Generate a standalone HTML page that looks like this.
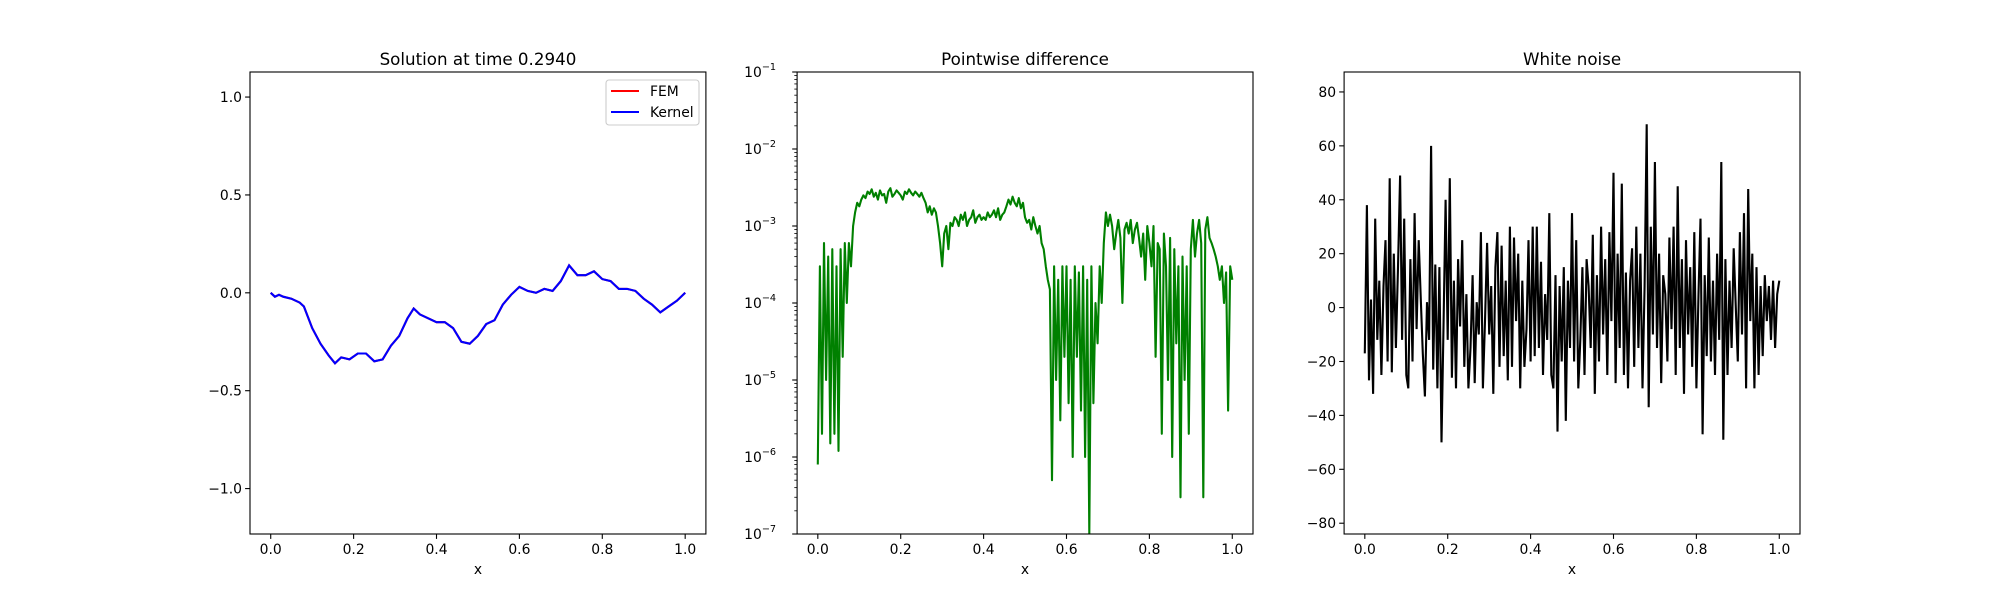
<!DOCTYPE html>
<html><head><meta charset="utf-8"><style>
html,body{margin:0;padding:0;background:#fff}
svg{display:block;font-family:"DejaVu Sans","Liberation Sans",sans-serif}
</style></head><body>
<svg id="fig" width="2000" height="600" viewBox="0 0 2000 600"></svg>
<script>
const solX = [0,0.01,0.02,0.03,0.05,0.07,0.08,0.1,0.12,0.14,0.155,0.17,0.19,0.21,0.23,0.25,0.27,0.29,0.31,0.33,0.345,0.36,0.38,0.4,0.42,0.44,0.46,0.48,0.5,0.52,0.54,0.56,0.58,0.6,0.62,0.64,0.66,0.68,0.7,0.72,0.74,0.76,0.78,0.8,0.82,0.84,0.86,0.88,0.9,0.92,0.94,0.96,0.98,1.0];
const solY = [0,-0.02,-0.01,-0.02,-0.03,-0.05,-0.07,-0.18,-0.26,-0.32,-0.36,-0.33,-0.34,-0.31,-0.31,-0.35,-0.34,-0.27,-0.22,-0.13,-0.08,-0.11,-0.13,-0.15,-0.15,-0.18,-0.25,-0.26,-0.22,-0.16,-0.14,-0.06,-0.01,0.03,0.01,0.0,0.02,0.01,0.06,0.14,0.09,0.09,0.11,0.07,0.06,0.02,0.02,0.01,-0.03,-0.06,-0.10,-0.07,-0.04,0.0];
const diffVals = [8e-7,3e-4,2e-6,6e-4,1e-5,4e-4,1.5e-6,5e-4,2e-6,3e-4,
1.2e-6,5e-4,2e-5,6e-4,1e-4,6e-4,3e-4,1e-3,1.5e-3,2e-3,
1.8e-3,2.2e-3,2.5e-3,2.3e-3,2.8e-3,2.6e-3,3e-3,2.4e-3,2.7e-3,2.2e-3,
2.9e-3,2.5e-3,2.6e-3,2e-3,2.8e-3,3.1e-3,2.4e-3,2.6e-3,2.9e-3,2.7e-3,
2.5e-3,2.2e-3,2.8e-3,2.6e-3,3e-3,2.7e-3,2.5e-3,2.8e-3,2.6e-3,2.4e-3,
2.7e-3,2.3e-3,2e-3,1.5e-3,1.8e-3,1.4e-3,1.7e-3,1.5e-3,1e-3,6e-4,
3e-4,8e-4,1e-3,5e-4,1.1e-3,1e-3,1.3e-3,1.2e-3,1e-3,1.4e-3,
1.2e-3,1.5e-3,1e-3,1.2e-3,1.3e-3,1.6e-3,1.1e-3,1.3e-3,1.4e-3,1.2e-3,
1.3e-3,1.2e-3,1.5e-3,1.3e-3,1.4e-3,1.6e-3,1.3e-3,1.7e-3,1.2e-3,1.4e-3,
1.5e-3,1.8e-3,2.2e-3,1.9e-3,2.4e-3,2e-3,1.8e-3,2.3e-3,1.7e-3,2e-3,
1.3e-3,1.1e-3,1.2e-3,9e-4,1.3e-3,1e-3,8e-4,1e-3,6e-4,5e-4,
3e-4,2e-4,1.5e-4,5e-7,3e-4,1e-5,2e-4,3e-6,3e-4,2e-5,
3e-4,5e-6,2e-4,1e-6,3e-4,2e-5,2.5e-4,4e-6,3e-4,1e-6,
2e-4,1e-7,3e-4,5e-6,1e-4,3e-5,3e-4,1e-4,6e-4,1.5e-3,
1e-3,1.4e-3,1e-3,5e-4,8e-4,1.2e-3,7e-4,1e-4,9e-4,1.1e-3,
8e-4,1.2e-3,6e-4,9e-4,1.1e-3,7e-4,4e-4,8e-4,2e-4,1e-3,
6e-4,3e-4,1e-3,2e-5,6e-4,5e-4,2e-6,8e-4,3e-4,1e-5,
7e-4,1e-6,5e-4,3e-5,3e-4,3e-7,4e-4,1e-5,3e-4,2e-6,
5e-4,1.2e-3,4e-4,8e-4,1.2e-3,6e-4,3e-7,9e-4,1.3e-3,7e-4,
6e-4,5e-4,4e-4,3e-4,2e-4,3e-4,1e-4,2.5e-4,4e-6,3e-4,
2e-4];
const noiseVals = [-17,38,-27,3,-32,33,-12,10,-25,8,
25,-20,48,-24,20,-15,15,49,-12,33,
-25,-30,18,-20,35,-8,25,3,-17,-33,
2,-12,60,-23,16,-30,15,-50,-5,40,
-12,48,-26,10,-30,18,-7,25,-22,5,
-30,-15,12,-28,2,-10,28,-30,-5,24,
-10,8,-32,15,28,-22,23,-18,10,-27,
30,-22,26,-5,20,-30,10,-22,-8,25,
-20,30,-18,30,-15,17,-25,5,-12,35,
-25,-30,12,-46,8,-20,15,-42,10,-15,
35,-20,25,-30,-12,15,-25,18,8,-15,
27,-32,12,-20,30,-10,18,-25,28,-5,
50,-28,20,-15,46,-25,13,-30,10,22,
-22,30,-15,20,-30,8,68,-37,30,-10,
54,-15,20,-28,12,5,-20,26,-8,30,
-25,45,-15,18,-32,25,-10,15,-22,28,
-30,5,33,-47,12,-18,26,-20,10,-25,
20,-12,54,-49,18,-25,10,-15,22,0,
-20,28,-10,35,-30,44,-5,20,-30,15,
-25,8,-18,12,-5,8,-12,10,-15,5,
10];
const xTicks = [0,0.2,0.4,0.6,0.8,1.0];
const xTickLabels = ["0.0","0.2","0.4","0.6","0.8","1.0"];
const solTicks = [-1,-0.5,0,0.5,1];
const solTickLabels = ["\u22121.0","\u22120.5","0.0","0.5","1.0"];
const diffExps = [-7,-6,-5,-4,-3,-2,-1];
const noiseTicks = [-80,-60,-40,-20,0,20,40,60,80];
const noiseTickLabels = ["\u221280","\u221260","\u221240","\u221220","0","20","40","60","80"];
const titles = ["Solution at time 0.2940","Pointwise difference","White noise"];

const NS="http://www.w3.org/2000/svg";
const fig=document.getElementById('fig');
function mk(tag,attrs,parent){const e=document.createElementNS(NS,tag);for(const k in attrs)e.setAttribute(k,attrs[k]);(parent||fig).appendChild(e);return e;}
const TOP=72, BOT=534, AW=455.9;
const lefts=[250,797.1,1344.1];
function sx(i,v){return lefts[i]+(v+0.05)/1.1*AW;}
function linY(lo,hi){return v=>BOT-(v-lo)/(hi-lo)*(BOT-TOP);}
const yS=[linY(-1.232,1.128), v=>BOT-(Math.log10(v)+7)/6*(BOT-TOP), linY(-84,87.4)];

function axes(i,name){
  const g=mk('g',{});
  
  
  const t=mk('text',{x:lefts[i]+AW/2,y:65,'text-anchor':'middle','font-size':'16.7px',fill:'#000'},g);
  t.textContent=titles[i];
  
  
  xTicks.forEach((v,k)=>{const x=sx(i,v);
    mk('line',{x1:x,x2:x,y1:BOT,y2:BOT+4.9,stroke:'#000','stroke-width':1.1},g);
    const l=mk('text',{x:x,y:BOT+20,'text-anchor':'middle','font-size':'13.9px'},g);
    l.textContent=xTickLabels[k];
    
    });
  const xl=mk('text',{x:lefts[i]+AW/2,y:574,'text-anchor':'middle','font-size':'13.9px'},g);
  xl.textContent='x';
  
  
  return g;
}
function frame(i,g){mk('rect',{x:lefts[i],y:TOP,width:AW,height:BOT-TOP,fill:'none',stroke:'#000','stroke-width':1.1},g);}
function clip(i){const c=mk('clipPath',{id:'c'+i});mk('rect',{x:lefts[i],y:TOP,width:AW,height:BOT-TOP},c);return 'url(#c'+i+')';}
function yTick(g,y,label,i){mk('line',{x1:lefts[i],x2:lefts[i]-4.9,y1:y,y2:y,stroke:'#000','stroke-width':1.1},g);
  const t=mk('text',{x:lefts[i]-8,y:y+5,'text-anchor':'end','font-size':'13.9px'},g);t.textContent=label;
  
  return t;}

// Panel 1
let g=axes(0,'solution-panel');
solTicks.forEach((v,k)=>yTick(g,yS[0](v),solTickLabels[k],0));
const pts0=solX.map((x,k)=>sx(0,x).toFixed(1)+','+yS[0](solY[k]).toFixed(1)).join(' ');
let p=mk('polyline',{points:pts0,fill:'none',stroke:'#ff0000','stroke-width':2.1,'clip-path':clip(0)},g);


p=mk('polyline',{points:pts0,fill:'none',stroke:'#0000ff','stroke-width':2.1,'clip-path':'url(#c0)'},g);


frame(0,g);
const lg=mk('g',{},g);


mk('rect',{x:606,y:80,width:93,height:45,rx:3,fill:'#fff',stroke:'#ccc','stroke-width':1.1},lg);
mk('line',{x1:611,x2:639,y1:91,y2:91,stroke:'#ff0000','stroke-width':2.1},lg);
mk('line',{x1:611,x2:639,y1:112,y2:112,stroke:'#0000ff','stroke-width':2.1},lg);
let t=mk('text',{x:650,y:96,'font-size':'13.9px'},lg);t.textContent='FEM';


t=mk('text',{x:650,y:117,'font-size':'13.9px'},lg);t.textContent='Kernel';



// Panel 2
g=axes(1,'difference-panel');
diffExps.forEach(e=>{const y=yS[1](Math.pow(10,e));
  const tt=yTick(g,y,'10',1);
  const s=document.createElementNS(NS,'tspan');s.setAttribute('dy','-7');s.setAttribute('font-size','9.7px');s.textContent='\u2212'+(-e);tt.appendChild(s);
  tt.setAttribute('x',lefts[1]-21);
  if(e<-1){for(let m=2;m<10;m++){const ym=yS[1](m*Math.pow(10,e));
    mk('line',{x1:lefts[1],x2:lefts[1]-2.8,y1:ym,y2:ym,stroke:'#000','stroke-width':0.8},g);}}
});
const pts1=diffVals.map((v,k)=>sx(1,k/(diffVals.length-1)).toFixed(1)+','+yS[1](v).toFixed(1)).join(' ');
p=mk('polyline',{points:pts1,fill:'none',stroke:'#008000','stroke-width':2.1,'stroke-linejoin':'round','clip-path':clip(1)},g);


frame(1,g);

// Panel 3
g=axes(2,'noise-panel');
noiseTicks.forEach((v,k)=>yTick(g,yS[2](v),noiseTickLabels[k],2));
const pts2=noiseVals.map((v,k)=>sx(2,k/(noiseVals.length-1)).toFixed(1)+','+yS[2](v).toFixed(1)).join(' ');
p=mk('polyline',{points:pts2,fill:'none',stroke:'#000','stroke-width':2.1,'clip-path':clip(2)},g);


frame(2,g);
</script>
</body></html>
